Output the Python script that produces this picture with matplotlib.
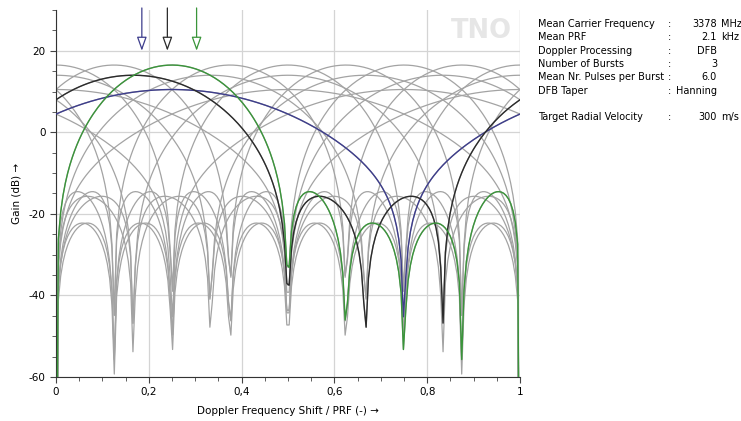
import numpy as np
import matplotlib
matplotlib.use("Agg")
import matplotlib.pyplot as plt
from matplotlib.ticker import MultipleLocator, FuncFormatter

# ==========================================
# DATA
# ==========================================
# three bursts, Hanning tapered DFB, filter responses over Doppler / PRF
pulses_per_burst = [4, 6, 8]
peak_gain_db = [10.5, 14.0, 16.5]          # peak level of each burst's filters
selected_filter = [1, 1, 2]                # highlighted filter index per burst
burst_colors = ['#3d3d8c', '#2b2b2b', '#3a953a']
target_shift = [0.185, 0.240, 0.303]       # arrow positions (Doppler / PRF)

info_labels = ['Mean Carrier Frequency', 'Mean PRF', 'Doppler Processing',
               'Number of Bursts', 'Mean Nr. Pulses per Burst', 'DFB Taper',
               '', 'Target Radial Velocity']
info_values = ['3378', '2.1', 'DFB', '3', '6.0', 'Hanning', '', '300']
info_units = ['MHz', 'kHz', '', '', '', '', '', 'm/s']
# ==========================================

N_SAMPLES = 200
plt.rcParams['axes.unicode_minus'] = False


def filter_response(n_pulses, k, peak_db, x):
    # Hanning taper sampled at pulse centres, DFT filter k of n_pulses
    n = np.arange(n_pulses)
    w = 0.5 - 0.5 * np.cos(2 * np.pi * (n + 0.5) / n_pulses)
    ph = np.exp(-2j * np.pi * np.outer(x - k / n_pulses, n))
    h = np.abs(ph @ w)
    h = np.maximum(h, 1e-6)
    return 20 * np.log10(h) - 20 * np.log10(w.sum()) + peak_db


fig = plt.figure(figsize=(7.41, 4.21), dpi=100)
ax = fig.add_axes([56 / 741, 44 / 421, 464 / 741, 367 / 421])

x = np.linspace(0, 1, N_SAMPLES)

# all filters in grey
for n_p, pk in zip(pulses_per_burst, peak_gain_db):
    for k in range(n_p):
        ax.plot(x, filter_response(n_p, k, pk, x), color='#a3a3a3', lw=0.9, zorder=2)

# highlighted filters
for n_p, pk, k, c in zip(pulses_per_burst, peak_gain_db, selected_filter, burst_colors):
    ax.plot(x, filter_response(n_p, k, pk, x), color=c, lw=1.0, zorder=3)

# target arrows
for xs, c in zip(target_shift, burst_colors):
    ax.annotate('', xy=(xs, 20), xytext=(xs, 30.5),
                arrowprops=dict(arrowstyle='-|>,head_length=0.7,head_width=0.25',
                                color=c, lw=0.9, fc='white', mutation_scale=12,
                                shrinkA=0, shrinkB=0),
                annotation_clip=False, zorder=4)

ax.set_xlim(0, 1)
ax.set_ylim(-60, 30)
ax.xaxis.set_major_locator(MultipleLocator(0.2))
ax.xaxis.set_minor_locator(MultipleLocator(0.05))
ax.yaxis.set_major_locator(MultipleLocator(20))
ax.yaxis.set_minor_locator(MultipleLocator(5))
ax.xaxis.set_major_formatter(FuncFormatter(lambda v, p: f'{v:g}'.replace('.', ',')))
ax.tick_params(which='both', direction='out', labelsize=7.5, color='#444444')
ax.tick_params(which='major', length=4)
ax.tick_params(which='minor', length=3)
ax.grid(True, which='major', color='#d4d4d4', lw=0.9, zorder=0)
ax.set_axisbelow(True)
for s in ['top', 'right']:
    ax.spines[s].set_visible(False)
ax.spines['left'].set_color('#333333')
ax.spines['bottom'].set_color('#333333')
ax.axvline(1.0, color='#d4d4d4', lw=0.9, zorder=0)

ax.set_xlabel('Doppler Frequency Shift / PRF (-) \u2192', fontsize=7.5, labelpad=6)
ax.set_ylabel('Gain (dB) \u2192', fontsize=7.5)
ax.yaxis.set_label_coords(-0.074, 0.5)

# TNO watermark
ax.text(0.982, 0.978, 'TNO', transform=ax.transAxes, ha='right', va='top',
        fontsize=18.5, fontweight='heavy', color='#e6e6e6', zorder=1)

# info panel
y0 = 421 - 24
for i, (lab, val, unit) in enumerate(zip(info_labels, info_values, info_units)):
    if not lab:
        continue
    yy = (y0 - i * 13.3) / 421
    fig.text(538 / 741, yy, lab, fontsize=7, va='center')
    fig.text(668 / 741, yy, ':', fontsize=7, va='center')
    fig.text(717 / 741, yy, val, fontsize=7, va='center', ha='right')
    if unit:
        fig.text(721 / 741, yy, unit, fontsize=7, va='center')

fig.savefig('out.png', dpi=100)
